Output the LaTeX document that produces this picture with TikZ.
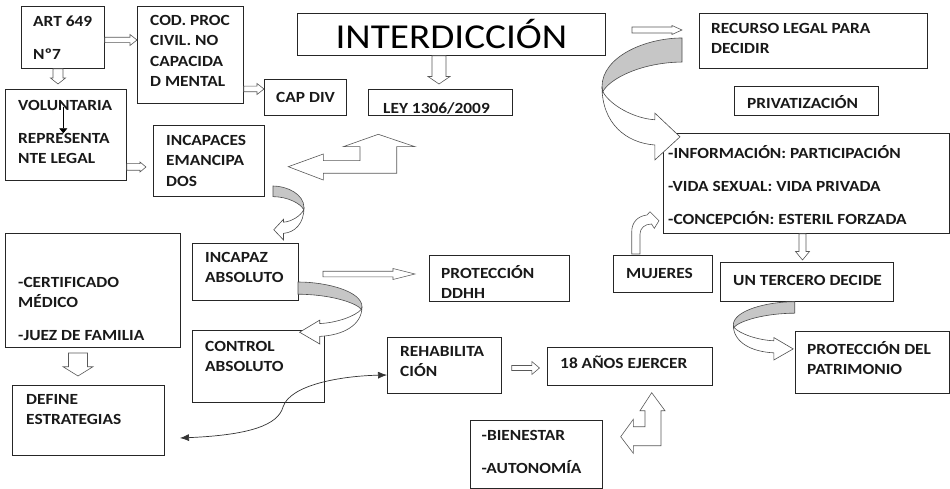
\documentclass[tikz,border=0pt]{standalone}
\usepackage{fontspec}
\setmainfont{Carlito}[FakeStretch=1.12]
\usetikzlibrary{calc,arrows.meta}

\tikzset{
	caja/.style={draw=black!85, line width=0.8pt, anchor=north west, inner sep=0pt},
	texto/.style={anchor=north west, yshift=9.7pt, align=left, inner sep=0pt, text=black!90,
		font=\bfseries\fontsize{15.5}{20.3}\selectfont, execute at begin node=\strut},
	aw/.store in=\aw, ah/.store in=\ah, al/.store in=\al,
	aw=2.7pt, ah=5.5pt, al=7pt,
	% block arrow from start to target
	flecha/.style={draw=black!65, fill=white, line width=0.6pt, to path={
		($(\tikztostart)!\aw!90:(\tikztotarget)$) --
		($(\tikztotarget)!\al!(\tikztostart)!\aw!90:(\tikztotarget)$) --
		($(\tikztotarget)!\al!(\tikztostart)!\ah!90:(\tikztotarget)$) --
		(\tikztotarget) --
		($(\tikztotarget)!\al!(\tikztostart)!\ah!-90:(\tikztotarget)$) --
		($(\tikztotarget)!\al!(\tikztostart)!\aw!-90:(\tikztotarget)$) --
		($(\tikztostart)!\aw!-90:(\tikztotarget)$) -- cycle}},
	bloque/.style={draw=black!65, fill=white, line width=0.6pt},
	% curved ribbon arrow, unit box
	pics/curva/.style={code={
		\filldraw[fill=gray!45, draw=black!70, line width=0.6pt] (1,0) .. controls (0.55,0) and (0,0.15) .. (0,0.40) -- (0.01,0.44) .. controls (0.1,0.33) and (0.5,0.2) .. (1,0.197) -- cycle;
		\filldraw[fill=white, draw=black!70, line width=0.6pt] (0,0.40) .. controls (0,0.7) and (0.3,0.86) .. (0.66,0.877) -- (0.66,1) -- (0.975,0.81) -- (0.66,0.615) -- (0.66,0.67) .. controls (0.4,0.66) and (0.1,0.55) .. (0.01,0.44) -- cycle;
	}}
}

\begin{document}
\begin{tikzpicture}[x=1pt,y=-1pt]
	\useasboundingbox (0,0) rectangle (950,489);

	% cajas
	\node[caja, minimum width=83pt, minimum height=62pt] (art) at (21,6) {};
	\node[caja, minimum width=106pt, minimum height=97pt] (cod) at (137,6) {};
	\node[caja, minimum width=121pt, minimum height=91pt] (vol) at (5,89) {};
	\node[caja, minimum width=82pt, minimum height=36pt] (cap) at (264,79) {};
	\node[caja, minimum width=308pt, minimum height=42pt, font=\fontsize{35}{40}\selectfont] (inter) at (297,13) {INTERDICCIÓN};
	\node[caja, minimum width=144pt, minimum height=26pt] (ley) at (368,89) {};
	\node[caja, minimum width=111pt, minimum height=71pt] (inc) at (153,125) {};
	\node[caja, minimum width=228pt, minimum height=55pt] (rec) at (699,13) {};
	\node[caja, minimum width=144pt, minimum height=29pt] (priv) at (734,86) {};
	\node[caja, minimum width=286pt, minimum height=100pt] (info) at (663,133) {};
	\node[caja, minimum width=175pt, minimum height=114pt] (cert) at (5,233) {};
	\node[caja, minimum width=152pt, minimum height=70pt] (def) at (12,385) {};
	\node[caja, minimum width=106pt, minimum height=57pt] (incabs) at (192,243) {};
	\node[caja, minimum width=132pt, minimum height=72pt] (ctrl) at (192,330) {};
	\node[caja, minimum width=140pt, minimum height=46pt] (ddhh) at (429,255) {};
	\node[caja, minimum width=99pt, minimum height=37pt] (muj) at (613,255) {};
	\node[caja, minimum width=173pt, minimum height=39pt] (ter) at (720,262) {};
	\node[caja, minimum width=114pt, minimum height=56pt] (rehab) at (387,337) {};
	\node[caja, minimum width=165pt, minimum height=38pt] (anos) at (547,347) {};
	\node[caja, minimum width=154pt, minimum height=62pt] (patr) at (795,331) {};
	\node[caja, minimum width=132pt, minimum height=68pt] (bien) at (470,420) {};

	% textos
	\node[texto] (art-t) at ($(art.north west)+(12,19)$) {ART 649\\[12.7pt]Nº7};
	\node[texto] (cod-t) at ($(cod.north west)+(13,19)$) {COD. PROC\\CIVIL. NO\\CAPACIDA\\D MENTAL};
	\node[texto] (vol-t) at ($(vol.north west)+(13,21)$) {VOLUNTARIA\\[12.7pt]REPRESENTA\\NTE LEGAL};
	\node[texto] (cap-t) at ($(cap.north west)+(12,19)$) {CAP DIV};
	\node[texto] (ley-t) at ($(ley.north west)+(15,20)$) {LEY 1306/2009};
	\node[texto] (inc-t) at ($(inc.north west)+(13,20)$) {INCAPACES\\EMANCIPA\\DOS};
	\node[texto] (rec-t) at ($(rec.north west)+(12,20)$) {RECURSO LEGAL PARA\\DECIDIR};
	\node[texto] (priv-t) at ($(priv.north west)+(13,18)$) {PRIVATIZACIÓN};
	\node[texto] (info-t) at ($(info.north west)+(5,22)$) {-INFORMACIÓN: PARTICIPACIÓN\\[12.7pt]-VIDA SEXUAL: VIDA PRIVADA\\[12.7pt]-CONCEPCIÓN: ESTERIL FORZADA};
	\node[texto] (cert-t) at ($(cert.north west)+(13,54)$) {-CERTIFICADO\\MÉDICO\\[12.7pt]-JUEZ DE FAMILIA};
	\node[texto] (def-t) at ($(def.north west)+(14,19)$) {DEFINE\\ESTRATEGIAS};
	\node[texto] (incabs-t) at ($(incabs.north west)+(13,19)$) {INCAPAZ\\ABSOLUTO};
	\node[texto] (ctrl-t) at ($(ctrl.north west)+(13,21)$) {CONTROL\\ABSOLUTO};
	\node[texto] (ddhh-t) at ($(ddhh.north west)+(12,20)$) {PROTECCIÓN\\DDHH};
	\node[texto] (muj-t) at ($(muj.north west)+(13,19)$) {MUJERES};
	\node[texto] (ter-t) at ($(ter.north west)+(13,19)$) {UN TERCERO DECIDE};
	\node[texto] (rehab-t) at ($(rehab.north west)+(13,19)$) {REHABILITA\\CIÓN};
	\node[texto] (anos-t) at ($(anos.north west)+(13,17)$) {18 AÑOS EJERCER};
	\node[texto] (patr-t) at ($(patr.north west)+(12,20)$) {PROTECCIÓN DEL\\PATRIMONIO};
	\node[texto] (bien-t) at ($(bien.north west)+(11.5,20)$) {-BIENESTAR\\[12.7pt]-AUTONOMÍA};

	% flechas rectas
	\coordinate (a1) at (art.east |- 0,40);
	\coordinate (a2) at (cod.west |- 0,40);
	\coordinate (b1) at (art.south -| 58,0);
	\coordinate (b2) at (58,84);
	\coordinate (c1) at (cod.east |- 0,89);
	\coordinate (c2) at (cap.west |- 0,89);
	\coordinate (d1) at (vol.east |- 0,167);
	\coordinate (d2) at (146,167);
	\coordinate (e1) at (inter.south -| 439,0);
	\coordinate (e2) at (439,84);
	\coordinate (f1) at (632,30);
	\coordinate (f2) at (682,30);
	\coordinate (g1) at (323,274);
	\coordinate (g2) at (415,274);
	\coordinate (h1) at (78,353);
	\coordinate (h2) at (78,376);
	\coordinate (i1) at (511.7,368);
	\coordinate (i2) at (539.5,368);
	\coordinate (j1) at (info.south -| 802.5,0);
	\coordinate (j2) at (802.5,260);

	\draw[flecha] (a1) to (a2);
	\draw[flecha, aw=5pt, ah=7.5pt, al=6pt] (b1) to (b2);
	\draw[flecha, aw=2.8pt] (c1) to (c2);
	\draw[flecha, aw=3.3pt, ah=5pt, al=6pt] (d1) to (d2);
	\draw[flecha, aw=7pt, ah=11pt, al=7.5pt] (e1) to (e2);
	\draw[flecha, aw=3pt, ah=4.5pt, al=10pt] (f1) to (f2);
	\draw[flecha, aw=2.8pt, al=22pt] (g1) to (g2);
	\draw[flecha, aw=9.5pt, ah=15pt, al=9.3pt] (h1) to (h2);
	\draw[flecha, aw=2.5pt, ah=6.5pt, al=7.7pt] (i1) to (i2);
	\draw[flecha, aw=3.5pt, ah=7pt, al=8.5pt] (j1) to (j2);

	% flecha izquierda-arriba
	\draw[bloque] (288.3,166.7) -- (323.3,154) -- (323.3,160.7) -- (360,160.7) -- (360,146.7) -- (343.3,146.7) -- (378.3,134.3) -- (415,146.7) -- (396.7,146.7) -- (396.7,173.3) -- (323.3,173.3) -- (323.3,180) -- cycle;
	% flecha arriba-izquierda
	\draw[bloque] (651.7,392.7) -- (665,410.7) -- (661,410.7) -- (661,445.7) -- (633.3,445.7) -- (633.3,453.3) -- (620.7,436.7) -- (633.3,419.3) -- (633.3,426.7) -- (645,426.7) -- (645,410.7) -- (640,410.7) -- cycle;
	% mujeres
	\draw[bloque] (631.7,254) -- (631.7,232) .. controls (631.7,222) and (638,216) .. (647,215) -- (650,211.7) -- (659,220.7) -- (654.3,228.3) -- (651.5,224) .. controls (645,224) and (640,228) .. (640,234) -- (640,254) -- cycle;

	% flechas curvas
	\begin{scope}[shift={(304,186)}]
		\pic[x=-31pt, y=-54pt] {curva};
	\end{scope}
	\begin{scope}[shift={(362,282)}]
		\pic[x=-64pt, y=-62pt] {curva};
	\end{scope}
	\begin{scope}[shift={(602,38)}]
		\pic[x=80pt, y=-122pt] {curva};
	\end{scope}
	\begin{scope}[shift={(733.3,301.7)}]
		\pic[x=61.4pt, y=-58.3pt] {curva};
	\end{scope}

	% flechas finas
	\draw[black, line width=0.8pt, -{Triangle[width=8pt,length=5pt]}] (63.3,106.7) -- (63.3,133.3);
	\coordinate (k1) at (180,438);
	\coordinate (k2) at (rehab.west |- 0,375);
	\draw[black!80, line width=0.7pt, {Latex[length=9pt,width=7pt]}-{Latex[length=9pt,width=7pt]}] (k1) .. controls (250,435) and (278,425) .. (283,407) .. controls (290,385) and (340,376) .. (k2);
\end{tikzpicture}
\end{document}
